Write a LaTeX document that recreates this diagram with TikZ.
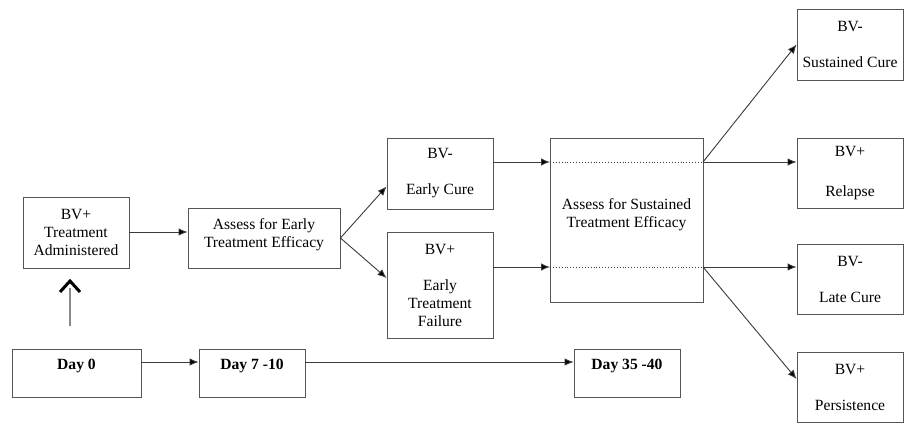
\documentclass[tikz,border=0pt]{standalone}
\usepackage{fontspec}
\setmainfont{Liberation Serif}
\usetikzlibrary{arrows.meta}
\definecolor{boxgray}{HTML}{555555}
\definecolor{linegray}{HTML}{3A3A3A}
\definecolor{shaftgray}{HTML}{8A8A8A}
\begin{document}
\begin{tikzpicture}[x=1pt,y=-1pt,
 box/.style={draw=boxgray, line width=0.9pt, align=center, inner sep=0pt, font=\fontsize{15.6}{18}\selectfont},
 arr/.style={draw=linegray, line width=0.9pt, -{Latex[length=9pt,width=7.5pt,fill=black]}},
 dotline/.style={draw=linegray, line width=0.9pt, dotted}]
\useasboundingbox (0,0) rectangle (905,433);
% boxes
\node[box, minimum width=106, minimum height=71] (b1) at (76,232.5) {BV+\\Treatment\\Administered};
\node[box, minimum width=152, minimum height=60] (b2) at (264,238) {Assess for Early\\Treatment Efficacy\\[-8pt]};
\node[box, minimum width=106, minimum height=71] (ec) at (440,173.5) {BV-\\[18pt]Early Cure};
\node[box, minimum width=106, minimum height=106] (etf) at (440,285) {BV+\\[18pt]Early\\Treatment\\Failure};
\node[box, minimum width=153, minimum height=164] (sus) at (626.5,220) {Assess for Sustained\\Treatment Efficacy\\[-4pt]};
\node[box, minimum width=106, minimum height=71] (sc) at (850,44.5) {BV-\\[18pt]Sustained Cure};
\node[box, minimum width=106, minimum height=70] (rel) at (850,173) {BV+\\[22pt]Relapse};
\node[box, minimum width=106, minimum height=70] (lc) at (850,279) {BV-\\[18pt]Late Cure};
\node[box, minimum width=106, minimum height=70] (per) at (850,387) {BV+\\[18pt]Persistence};
\node[box, minimum width=129, minimum height=48] (d0) at (76.5,373) {\textbf{Day 0}\\\mbox{}};
\node[box, minimum width=106, minimum height=48] (d7) at (252,373) {\textbf{Day 7 -10}\\\mbox{}};
\node[box, minimum width=106, minimum height=48] (d35) at (627,373) {\textbf{Day 35 -40}\\\mbox{}};
% dotted lines inside sustained box
\coordinate (s1w) at (550,162);
\coordinate (s1e) at (703,162);
\coordinate (s2w) at (550,267);
\coordinate (s2e) at (703,267);
\draw[dotline] (s1w) -- (s1e);
\draw[dotline] (s2w) -- (s2e);
% arrows
\draw[arr] ([yshift=0.5pt]b1.east) -- ([yshift=0.5pt]b1.east -| b2.west);
\draw[arr] (b2.east) -- ([yshift=-13pt]ec.west);
\draw[arr] (b2.east) -- ([yshift=7pt]etf.west);
\draw[arr] (ec.east |- s1w) -- (s1w);
\draw[arr] (etf.east |- s2w) -- (s2w);
\draw[arr] (s1e) -- (sc.west);
\draw[arr] (s1e) -- (s1e -| rel.west);
\draw[arr] (s2e) -- (s2e -| lc.west);
\draw[arr] (s2e) -- ([yshift=8pt]per.west);
\draw[arr] ([yshift=11pt]d0.east) -- ([yshift=11pt]d0.east -| d7.west);
\draw[arr] ([yshift=11pt]d7.east) -- ([yshift=11pt]d7.east -| d35.west);
% up arrow
\coordinate (upbot) at (70,326);
\coordinate (uptop) at (70,288);
\coordinate (uptip) at (70,281);
\draw[shaftgray, line width=2.6pt] (upbot) -- (uptop);
\draw[black, line width=3pt, line join=miter] ([shift={(-10,11)}]uptip) -- (uptip) -- ([shift={(10,11)}]uptip);
\end{tikzpicture}
\end{document}
